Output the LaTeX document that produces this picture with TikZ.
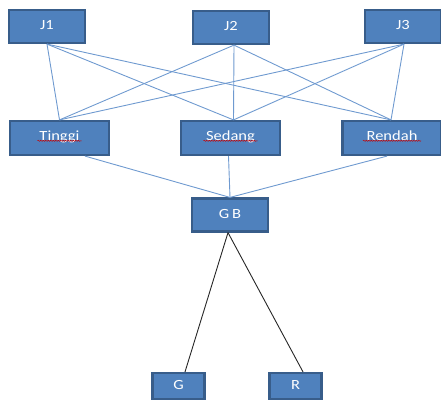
\documentclass[tikz,border=0pt]{standalone}
\usepackage{fontspec}
\setmainfont{Carlito}
\usetikzlibrary{calc,decorations.pathmorphing}
\definecolor{boxfill}{HTML}{4F81BD}
\definecolor{boxline}{HTML}{385D8A}
\definecolor{linkblue}{HTML}{6F9AD0}
\newcommand{\lbl}[2][4]{\raisebox{#1pt}{\scalebox{1.18}[1]{#2}}}
\begin{document}
\begin{tikzpicture}[x=1pt,y=-1pt,
  box/.style={draw=boxline,line width=2.2pt,fill=boxfill,text=white,
    font=\fontsize{14}{14}\selectfont,inner sep=0pt,anchor=center,
    text depth=0pt},
  bigbox/.style={box,minimum width=76pt,minimum height=33pt},
  widebox/.style={box,minimum width=99pt,minimum height=34pt},
  smallbox/.style={box,minimum width=52pt,minimum height=26pt},
  link/.style={draw=linkblue,line width=0.9pt},
  blacklink/.style={draw=black!85,line width=0.9pt},
  squiggle/.style={draw=red!80!black,line width=0.5pt,decorate,
    decoration={snake,amplitude=0.6pt,segment length=2.5pt}}]
\useasboundingbox (0,0) rectangle (441,401);
% nodes
\node[bigbox] (J1) at (47,26.5) {\lbl{J1}};
\node[bigbox] (J2) at (231,27.5) {\lbl{J2}};
\node[bigbox] (J3) at (403,26.5) {\lbl{J3}};
\node[widebox] (T) at (59.5,138) {\lbl{Tinggi}};
\node[widebox] (S) at (230.5,138) {\lbl{Sedang}};
\node[widebox] (Rd) at (392,138) {\lbl{Rendah}};
\node[bigbox] (GB) at (230,215) {\lbl[3]{G\,B}};
\node[smallbox] (G) at (178.5,386) {\lbl[1.5]{G}};
\node[smallbox] (R) at (295.5,386) {\lbl[1.5]{R}};
% connectors J -> middle
\foreach \j/\dx in {J1/0,J2/3,J3/1}{
  \draw[link] ($(\j.south)+(\dx,0)$) -- (T.north);
  \draw[link] ($(\j.south)+(\dx,0)$) -- ($(S.north)+(3,0)$);
  \draw[link] ($(\j.south)+(\dx,0)$) -- ($(Rd.north)+(-1,0)$);
}
% middle -> GB
\draw[link] ($(T.south)+(25.5,0)$) -- (GB.north);
\draw[link] ($(S.south)+(-2,0)$) -- (GB.north);
\draw[link] ($(Rd.south)+(-5,0)$) -- (GB.north);
% GB -> G, R
\draw[blacklink] ($(GB.south)+(-2,0)$) -- ($(G.north)+(6.5,0)$);
\draw[blacklink] ($(GB.south)+(-2,0)$) -- ($(R.north)+(7.5,0)$);
% spell-check squiggles
\draw[squiggle] ($(T.center)+(-22,2.8)$) -- ($(T.center)+(22,2.8)$);
\draw[squiggle] ($(S.center)+(-27,2.8)$) -- ($(S.center)+(27,2.8)$);
\draw[squiggle] ($(Rd.center)+(-29,2.8)$) -- ($(Rd.center)+(29,2.8)$);
\end{tikzpicture}
\end{document}
